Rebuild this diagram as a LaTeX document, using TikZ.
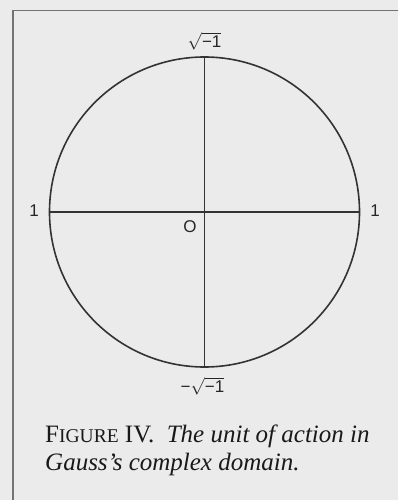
\documentclass[tikz,border=0pt]{standalone}
\usepackage{fontspec}
\setmainfont{Liberation Serif}
\setsansfont{Liberation Sans}
\begin{document}
\begin{tikzpicture}[x=1pt,y=-1pt,
  lbl/.style={font=\sffamily\fontsize{17}{17}\selectfont, inner sep=0pt, text=black!85},
  axis/.style={draw=black!80, line width=1.6pt},
  captext/.style={font=\fontsize{25}{28}\selectfont, inner sep=0pt, anchor=base west, text=black!90}]
\useasboundingbox (0,0) rectangle (398,500);
\fill[black!8] (0,0) rectangle (398,500);
\draw[black!55, line width=1.6pt] (13,510) -- (13,10.5) -- (410,10.5);
\coordinate (O) at (204.5,212);
\node[circle, axis, fill=none, minimum size=310pt, inner sep=0pt] (c) at (O) {};
\draw[axis] (c.west) -- (c.east);
\draw[axis] (c.north) -- (c.south);
\node[lbl, anchor=south] (top) at ([yshift=6pt]c.north) {$\sqrt{\mbox{\sffamily −1}}$};
\node[lbl, anchor=north] (bot) at ([xshift=-2pt,yshift=-9pt]c.south) {−$\sqrt{\mbox{\sffamily −1}}$};
\node[lbl] (l1) at (34,211) {1};
\node[lbl] (r1) at (375,211) {1};
\node[lbl] (o) at (190,227) {O};
\node[captext] (c1) at (45,442) {F{\fontsize{19.5}{19.5}\selectfont IGURE} IV.\ \ \textit{The unit of action in}};
\node[captext] (c2) at (45,470) {\textit{Gauss’s complex domain.}};
\end{tikzpicture}
\end{document}
